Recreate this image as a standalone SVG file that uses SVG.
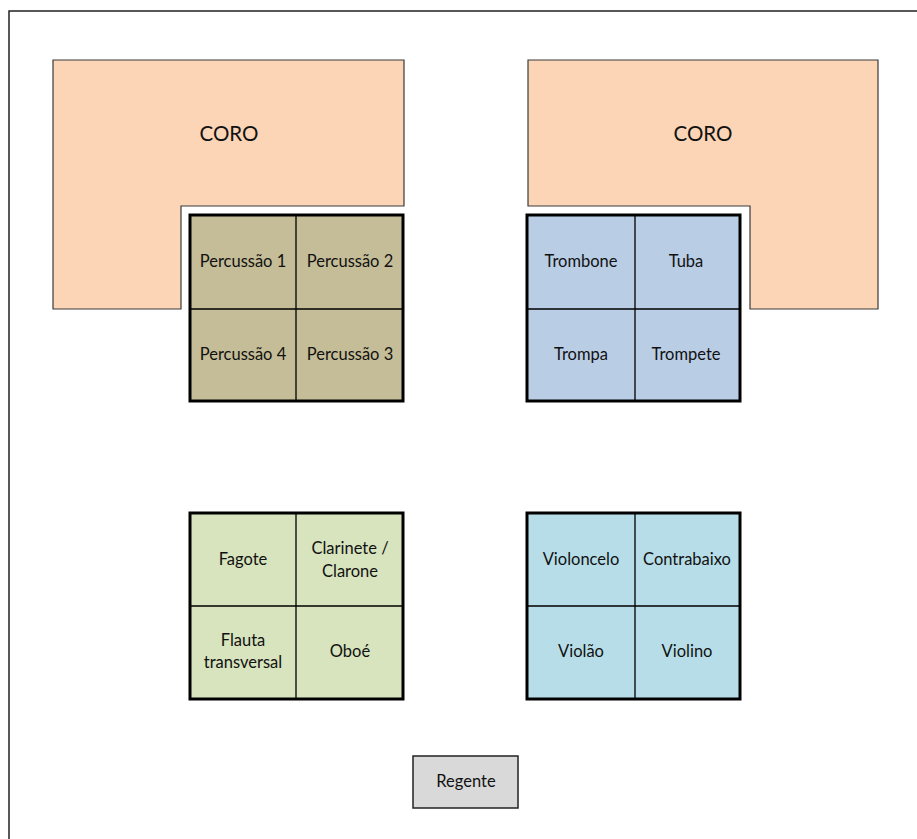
<svg xmlns="http://www.w3.org/2000/svg" width="917" height="839" viewBox="0 0 917 839">
<style>
text{font-family:Lato,"Open Sans","Liberation Sans",sans-serif;fill:#111;text-anchor:middle;font-size:16.5px}
.coro{fill:#FBD5B5;stroke:#3a3a3a;stroke-width:1.2}
.coro-t{font-size:20.5px}
.grid{stroke:#000;stroke-width:3}
.inner{stroke:#000;stroke-width:1.3;fill:none}
.perc{fill:#C4BD97}
.brass{fill:#B9CDE5}
.wood{fill:#D7E4BD}
.str{fill:#B7DEE8}
</style>
<rect x="0" y="0" width="917" height="839" fill="#fff"/>
<rect x="9" y="11" width="930" height="850" fill="none" stroke="#222" stroke-width="1.5"/>
<g id="coro-left">
<polygon class="coro" points="53,60 404,60 404,206 181,206 181,309 53,309"/>
<text class="coro-t" x="229" y="141">CORO</text>
</g>
<g id="coro-right">
<polygon class="coro" points="528,60 878,60 878,309 750,309 750,206 528,206"/>
<text class="coro-t" x="703" y="141">CORO</text>
</g>
<g id="percussao">
<rect class="grid perc" x="190" y="215" width="213" height="186"/>
<path class="inner" d="M296,215V401M190,309H403"/>
<text x="243" y="267">Percussão 1</text>
<text x="350" y="267">Percussão 2</text>
<text x="243" y="360">Percussão 4</text>
<text x="350" y="360">Percussão 3</text>
</g>
<g id="metais">
<rect class="grid brass" x="527" y="215" width="213" height="186"/>
<path class="inner" d="M635,215V401M527,309H740"/>
<text x="581" y="267">Trombone</text>
<text x="686" y="267">Tuba</text>
<text x="581" y="360">Trompa</text>
<text x="686" y="360">Trompete</text>
</g>
<g id="madeiras">
<rect class="grid wood" x="190" y="513" width="213" height="186"/>
<path class="inner" d="M296,513V699M190,606H403"/>
<text x="243" y="565">Fagote</text>
<text x="350" y="554">Clarinete /</text>
<text x="350" y="577">Clarone</text>
<text x="243" y="646">Flauta</text>
<text x="243" y="668">transversal</text>
<text x="350" y="657">Oboé</text>
</g>
<g id="cordas">
<rect class="grid str" x="527" y="513" width="213" height="186"/>
<path class="inner" d="M635,513V699M527,606H740"/>
<text x="581" y="565">Violoncelo</text>
<text x="687" y="565">Contrabaixo</text>
<text x="581" y="657">Violão</text>
<text x="687" y="657">Violino</text>
</g>
<g id="regente">
<rect x="413" y="756" width="105" height="52" fill="#D9D9D9" stroke="#222" stroke-width="1.5"/>
<text x="466" y="787">Regente</text>
</g>
<g id="connectors"/>
</svg>
